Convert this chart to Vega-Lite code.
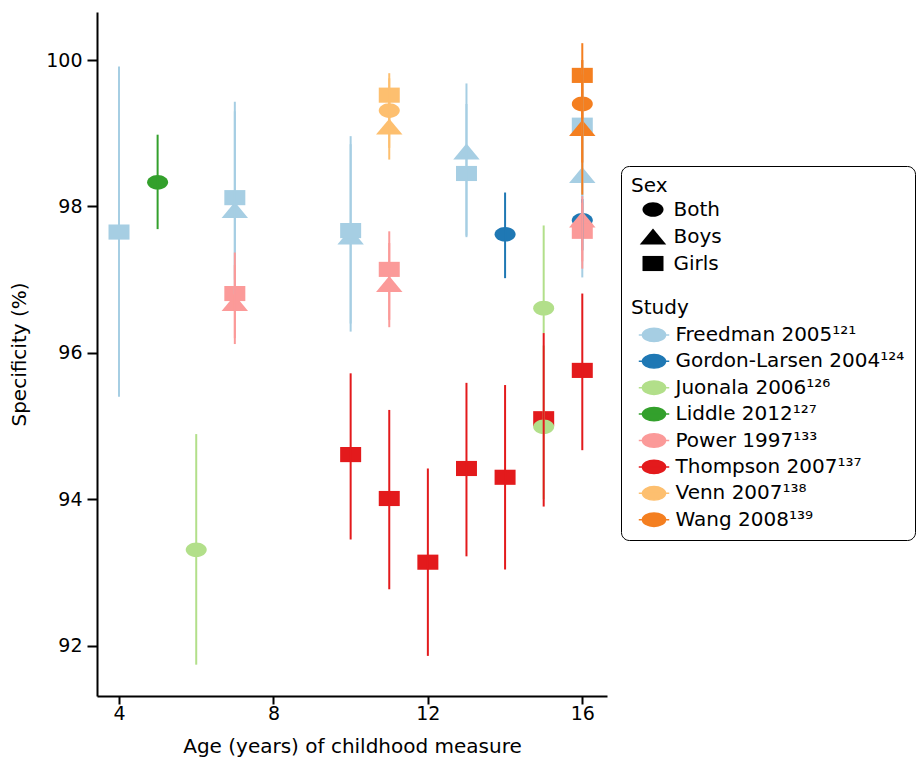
{
  "$schema": "https://vega.github.io/schema/vega-lite/v6.json",
  "autosize": {"type": "none"},
  "padding": {"left": 97, "top": 12, "right": 316, "bottom": 62},
  "width": 510,
  "height": 684,
  "background": "white",
  "config": {
    "font": "DejaVu Sans",
    "view": {"stroke": null},
    "axis": {
      "grid": false,
      "domainColor": "black",
      "domainWidth": 2,
      "tickColor": "black",
      "tickWidth": 2,
      "labelColor": "black",
      "labelFontSize": 19,
      "labelFont": "DejaVu Sans",
      "titleColor": "black",
      "titleFontSize": 20,
      "titleFont": "DejaVu Sans",
      "titleFontWeight": "normal"
    }
  },
  "data": {
    "values": [
      {"study": "Freedman 2005¹²¹", "sex": "Girls", "age": 4, "spec": 97.65, "lo": 95.40, "hi": 99.91},
      {"study": "Freedman 2005¹²¹", "sex": "Boys", "age": 7, "spec": 97.95, "lo": 96.80, "hi": 99.30},
      {"study": "Freedman 2005¹²¹", "sex": "Girls", "age": 7, "spec": 98.12, "lo": 97.00, "hi": 99.43},
      {"study": "Freedman 2005¹²¹", "sex": "Boys", "age": 10, "spec": 97.59, "lo": 96.40, "hi": 98.85},
      {"study": "Freedman 2005¹²¹", "sex": "Girls", "age": 10, "spec": 97.67, "lo": 96.29, "hi": 98.96},
      {"study": "Freedman 2005¹²¹", "sex": "Boys", "age": 13, "spec": 98.75, "lo": 97.58, "hi": 99.68},
      {"study": "Freedman 2005¹²¹", "sex": "Girls", "age": 13, "spec": 98.45, "lo": 97.60, "hi": 99.40},
      {"study": "Freedman 2005¹²¹", "sex": "Boys", "age": 16, "spec": 98.43, "lo": 97.03, "hi": 99.60},
      {"study": "Freedman 2005¹²¹", "sex": "Girls", "age": 16, "spec": 99.11, "lo": 97.90, "hi": 100.00},
      {"study": "Gordon-Larsen 2004¹²⁴", "sex": "Both", "age": 14, "spec": 97.62, "lo": 97.02, "hi": 98.19},
      {"study": "Gordon-Larsen 2004¹²⁴", "sex": "Both", "age": 16, "spec": 97.81, "lo": 97.40, "hi": 98.10},
      {"study": "Liddle 2012¹²⁷", "sex": "Both", "age": 5, "spec": 98.33, "lo": 97.69, "hi": 98.98},
      {"study": "Power 1997¹³³", "sex": "Boys", "age": 7, "spec": 96.68, "lo": 96.20, "hi": 97.20},
      {"study": "Power 1997¹³³", "sex": "Girls", "age": 7, "spec": 96.81, "lo": 96.12, "hi": 97.37},
      {"study": "Power 1997¹³³", "sex": "Boys", "age": 11, "spec": 96.94, "lo": 96.45, "hi": 97.50},
      {"study": "Power 1997¹³³", "sex": "Girls", "age": 11, "spec": 97.14, "lo": 96.35, "hi": 97.66},
      {"study": "Power 1997¹³³", "sex": "Boys", "age": 16, "spec": 97.82, "lo": 97.25, "hi": 98.05},
      {"study": "Power 1997¹³³", "sex": "Girls", "age": 16, "spec": 97.66, "lo": 97.15, "hi": 98.14},
      {"study": "Thompson 2007¹³⁷", "sex": "Girls", "age": 10, "spec": 94.61, "lo": 93.45, "hi": 95.72},
      {"study": "Thompson 2007¹³⁷", "sex": "Girls", "age": 11, "spec": 94.01, "lo": 92.77, "hi": 95.22},
      {"study": "Thompson 2007¹³⁷", "sex": "Girls", "age": 12, "spec": 93.14, "lo": 91.86, "hi": 94.42},
      {"study": "Thompson 2007¹³⁷", "sex": "Girls", "age": 13, "spec": 94.42, "lo": 93.22, "hi": 95.59},
      {"study": "Thompson 2007¹³⁷", "sex": "Girls", "age": 14, "spec": 94.30, "lo": 93.04, "hi": 95.56},
      {"study": "Thompson 2007¹³⁷", "sex": "Girls", "age": 15, "spec": 95.10, "lo": 93.90, "hi": 96.27},
      {"study": "Thompson 2007¹³⁷", "sex": "Girls", "age": 16, "spec": 95.76, "lo": 94.67, "hi": 96.81},
      {"study": "Juonala 2006¹²⁶", "sex": "Both", "age": 6, "spec": 93.31, "lo": 91.74, "hi": 94.89},
      {"study": "Juonala 2006¹²⁶", "sex": "Both", "age": 15, "spec": 96.61, "lo": 96.27, "hi": 97.74},
      {"study": "Juonala 2006¹²⁶", "sex": "Both", "age": 15, "spec": 94.99, "lo": 94.00, "hi": 96.10},
      {"study": "Venn 2007¹³⁸", "sex": "Boys", "age": 11, "spec": 99.09, "lo": 98.64, "hi": 99.60},
      {"study": "Venn 2007¹³⁸", "sex": "Both", "age": 11, "spec": 99.31, "lo": 98.80, "hi": 99.75},
      {"study": "Venn 2007¹³⁸", "sex": "Girls", "age": 11, "spec": 99.52, "lo": 99.00, "hi": 99.82},
      {"study": "Wang 2008¹³⁹", "sex": "Boys", "age": 16, "spec": 99.07, "lo": 98.16, "hi": 99.80},
      {"study": "Wang 2008¹³⁹", "sex": "Both", "age": 16, "spec": 99.40, "lo": 98.60, "hi": 100.00},
      {"study": "Wang 2008¹³⁹", "sex": "Girls", "age": 16, "spec": 99.79, "lo": 99.20, "hi": 100.23}
    ]
  },
  "layer": [
    {
      "mark": {"type": "point", "filled": true, "size": 441, "opacity": 1, "strokeWidth": 0},
      "encoding": {
        "x": {
          "field": "age", "type": "quantitative",
          "scale": {"domain": [3.43, 16.64], "nice": false, "zero": false},
          "axis": {"values": [4, 8, 12, 16], "format": "d", "tickSize": 8, "labelPadding": 0, "title": "Age (years) of childhood measure", "titlePadding": 13}
        },
        "y": {
          "field": "spec", "type": "quantitative",
          "scale": {"domain": [91.312, 100.656], "nice": false, "zero": false},
          "axis": {"values": [92, 94, 96, 98, 100], "format": "d", "tickSize": 10, "labelPadding": 5, "title": "Specificity (%)", "titlePadding": 16}
        },
        "color": {
          "field": "study", "type": "nominal",
          "scale": {
            "domain": ["Freedman 2005¹²¹", "Gordon-Larsen 2004¹²⁴", "Juonala 2006¹²⁶", "Liddle 2012¹²⁷", "Power 1997¹³³", "Thompson 2007¹³⁷", "Venn 2007¹³⁸", "Wang 2008¹³⁹"],
            "range": ["#a6cee3", "#1f78b4", "#b2df8a", "#33a02c", "#fb9a99", "#e31a1c", "#fdbf6f", "#f47f20"]
          },
          "legend": {
            "orient": "none",
            "legendX": 524,
            "legendY": 154,
            "padding": 10,
            "strokeColor": "black",
            "cornerRadius": 8,
            "title": ["Sex", "\u2800", "\u2800", "\u2800", "Study"],
            "titleLineHeight": 30.6,
            "titleFontSize": 20,
            "titleFontWeight": "normal",
            "titleColor": "black",
            "titleFont": "DejaVu Sans",
            "titlePadding": 5,
            "labelFontSize": 20,
            "labelColor": "black",
            "labelFont": "DejaVu Sans",
            "labelLimit": 400,
            "labelOffset": 10,
            "symbolOffset": 11.5,
            "symbolSize": 441,
            "rowPadding": 4.4,
            "symbolType": "M -1.45 0 L 1.45 0 M -1.1 0 A 1.1 0.64 0 1 0 1.1 0 A 1.1 0.64 0 1 0 -1.1 0 Z",
            "encode": {
              "legend": {"update": {"strokeWidth": {"value": 1.5}}},
              "symbols": {"update": {"stroke": {"scale": "color", "field": "value"}, "strokeWidth": {"value": 2}}}
            }
          }
        },
        "shape": {
          "field": "sex", "type": "nominal",
          "scale": {
            "domain": ["Both", "Boys", "Girls"],
            "range": [
              "M -1 0 A 1 0.7 0 1 0 1 0 A 1 0.7 0 1 0 -1 0 Z",
              "M 0 -0.76 L 1.26 0.76 L -1.26 0.76 Z",
              "M -1 -0.72 L 1 -0.72 L 1 0.72 L -1 0.72 Z"
            ]
          },
          "legend": {
            "orient": "none",
            "legendX": 534,
            "legendY": 187,
            "padding": 0,
            "title": null,
            "labelFontSize": 20,
            "labelColor": "black",
            "labelFont": "DejaVu Sans",
            "labelOffset": 10,
            "symbolOffset": 11.5,
            "symbolSize": 441,
            "rowPadding": 6,
            "symbolFillColor": "black",
            "symbolStrokeWidth": 0
          }
        }
      }
    },
    {
      "mark": {"type": "rule", "strokeWidth": 2},
      "encoding": {
        "x": {"field": "age", "type": "quantitative"},
        "y": {"field": "lo", "type": "quantitative"},
        "y2": {"field": "hi"},
        "color": {"field": "study", "type": "nominal", "legend": null},
        "order": {"field": "study"}
      }
    }
  ]
}
